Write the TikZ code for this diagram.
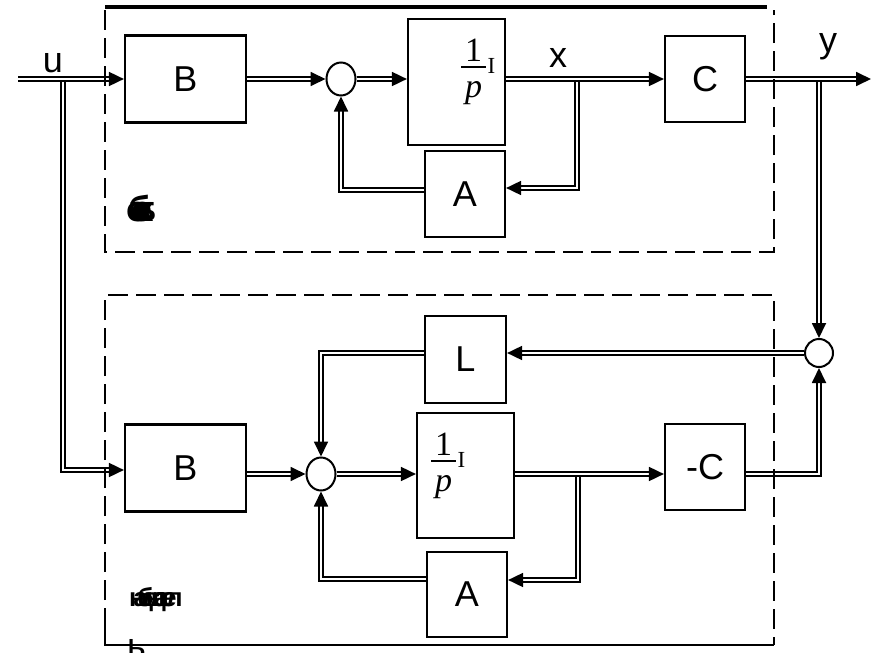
\documentclass[tikz,border=0pt]{standalone}
\usepackage{fontspec}
\usepackage{graphicx}
\setmainfont{Liberation Sans}
\newfontfamily\tms{Liberation Serif}
\usetikzlibrary{arrows.meta,shapes.geometric,calc}
\newcommand{\oneoverp}{\hbox{\tms\fontsize{34}{34}\selectfont\vbox{\offinterlineskip\hbox to 25pt{\hss 1\hss}\kern4.5pt\hrule height 1.6pt\kern13.5pt\hbox to 25pt{\hss\itshape p\hss}}\kern1.5pt\raisebox{24.5pt}{\fontsize{23}{23}\selectfont I}}}
\newlength{\olk}
\newcommand{\ol}[1]{\rlap{#1}\kern\olk}
\begin{document}
\begin{tikzpicture}[x=1pt,y=-1pt,
  blk/.style={draw,line width=2.2pt,inner sep=0pt,font=\fontsize{36}{36}\selectfont},
  sumj/.style={draw,ellipse,line width=2pt,minimum width=29pt,minimum height=33pt,inner sep=0pt,fill=white},
  sig/.style={double,line width=1.8pt,double distance=2.2pt},
  tip/.style={-{Triangle[length=15pt,width=14pt]}},
  frame/.style={line width=2.8pt,dash pattern=on 20pt off 8pt},
  lbl/.style={font=\fontsize{36}{36}\selectfont,inner sep=0pt,anchor=base}]
\useasboundingbox (0,0) rectangle (871,653);
% blocks
\node[blk,minimum width=121pt,minimum height=87pt] (B1) at (185.5,79) {B};
\node[blk,minimum width=97pt,minimum height=126pt] (I1) at (456.5,82) {};
\node[blk,minimum width=80pt,minimum height=86pt] (C1) at (705,79) {C};
\node[blk,minimum width=80pt,minimum height=86pt] (A1) at (465,194) {A};
\node[blk,minimum width=81pt,minimum height=87pt] (L) at (465.5,359.5) {L};
\node[blk,minimum width=121pt,minimum height=87pt] (B2) at (185.5,468) {B};
\node[blk,minimum width=97pt,minimum height=125pt] (I2) at (465.5,475.5) {};
\node[blk,minimum width=80pt,minimum height=86pt] (mC) at (705,467) {-C};
\node[blk,minimum width=80pt,minimum height=85pt] (A2) at (467,594.5) {A};
% summing junctions
\node[sumj] (s1) at (341,79) {};
\node[sumj] (s2) at (321,474) {};
\node[sumj,minimum width=28pt,minimum height=28pt] (s3) at (819,353) {};
% coordinates
\coordinate (j0) at (63,79);
\coordinate (j1) at (819,79);
\coordinate (j2) at (577,79);
\coordinate (j3) at (578,474);
\coordinate (uin) at (18,79);
\coordinate (yout) at (871,79);
% branches
\draw[sig,tip] (j0) |- ([yshift=-2pt]B2.west);
\draw[sig,tip] (j1) -- (s3.north);
\draw[sig,tip] (j2) |- ([yshift=6pt]A1.east);
\draw[sig,tip] (j3) |- ([yshift=14.5pt]A2.east);
% top row
\draw[sig,tip] (uin) -- (B1.west);
\draw[sig,tip] (B1.east) -- (s1.west);
\draw[sig,tip] (s1.east) -- (I1.west|-s1);
\draw[sig,tip] (I1.east|-s1) -- (C1.west);
\draw[sig,tip] (C1.east) -- (yout);
\draw[sig,tip] ([yshift=4pt]A1.west) -| (s1.south);
% bottom row
\draw[sig,tip] (B2.east|-s2) -- (s2.west);
\draw[sig,tip] (s2.east) -- (I2.west|-s2);
\draw[sig,tip] (I2.east|-s2) -- (mC.west|-s2);
\draw[sig,tip] (mC.east|-s2) -| (s3.south);
\draw[sig,tip] (s3.west) -- (L.east|-s3);
\draw[sig,tip] (L.west|-s3) -| (s2.north);
\draw[sig,tip] ([yshift=15.5pt]A2.west) -| (s2.south);
% frames
\draw[line width=3.2pt] (105,7) -- (767,7);
\draw[frame] (105,10) -- (105,252) -- (774,252) -- (774,10);
\draw[frame] (105,628) -- (105,295) -- (774,295) -- (774,645);
\draw[line width=1.2pt] (105,628) |- (774,645);
% labels
\node[lbl] (tu) at (53,72) {u};
\node[lbl] (tx) at (558,67) {x};
\node[lbl] (ty) at (828,52) {y};
\node[inner sep=0pt,anchor=base west] (f1) at (461,97.5) {\oneoverp};
\node[inner sep=0pt,anchor=base west] (f2) at (431,491.5) {\oneoverp};
\node[inner sep=0pt,anchor=base west,font=\fontsize{36}{36}\selectfont\bfseries] (lo) at (126,221) {\setlength{\olk}{2.2pt}\ol{о}\ol{б}\ol{ъ}\ol{е}\ol{к}т};
\node[inner sep=0pt,anchor=base west,font=\fontsize{26}{26}\selectfont\bfseries] (ln) at (129,606) {\setlength{\olk}{4.1pt}\ol{н}\ol{а}\ol{б}\ol{л}\ol{ю}\ol{д}\ol{а}\ol{т}\ol{е}л};
\node[lbl,anchor=base west] (lb) at (127,658) {ь};
\end{tikzpicture}
\end{document}
